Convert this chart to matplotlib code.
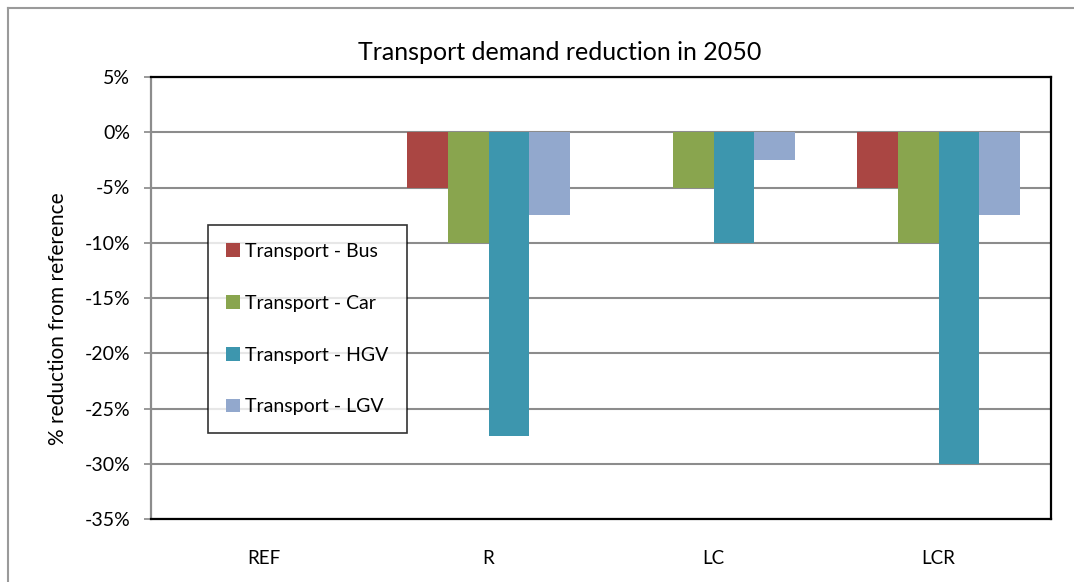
import numpy as np
from matplotlib import pyplot as plt
from matplotlib.lines import Line2D

plt.rcParams['font.family'] = ['Lato', 'DejaVu Sans']

scenarios = ['REF', 'R', 'LC', 'LCR']
series = ['Transport - Bus', 'Transport - Car', 'Transport - HGV', 'Transport - LGV']
bus = [0.0, -0.05, 0.0, -0.05]
car = [0.0, -0.10, -0.05, -0.10]
hgv = [0.0, -0.275, -0.10, -0.30]
lgv = [0.0, -0.075, -0.025, -0.075]
colors = ['#AA4643', '#89A54E', '#3D96AE', '#92A8CD']
y_ticks = [0.05, 0.0, -0.05, -0.10, -0.15, -0.20, -0.25, -0.30, -0.35]


def main():
    fig = plt.figure(figsize=(10.74, 5.82), dpi=100)
    ax = fig.add_axes([151 / 1074, 1 - 519 / 582, 900 / 1074, 442 / 582])

    # outer chart frame (only left and top edges are visible)
    fig.add_artist(Line2D([8 / 1074, 8 / 1074], [0, 1 - 8 / 582],
                          transform=fig.transFigure, color='#9a9a9a', lw=1.5))
    fig.add_artist(Line2D([8 / 1074, 1], [1 - 8 / 582, 1 - 8 / 582],
                          transform=fig.transFigure, color='#9a9a9a', lw=1.5))

    x = np.arange(len(scenarios))
    w = 0.181
    data = [bus, car, hgv, lgv]
    for i, vals in enumerate(data):
        ax.bar(x + (i - 1.5) * w, vals, width=w, color=colors[i],
               label=series[i], zorder=3)

    ax.set_xlim(-0.5, len(scenarios) - 0.5)
    ax.set_ylim(-0.35, 0.05)
    ax.set_yticks(y_ticks)
    ax.set_yticklabels(['%d%%' % round(v * 100) for v in y_ticks])
    ax.set_xticks(x)
    ax.set_xticklabels(scenarios)
    ax.tick_params(axis='x', length=0, pad=22, labelsize=13.5)
    ax.tick_params(axis='y', length=5, width=1.2, color='#888888', pad=10, labelsize=14)

    ax.yaxis.grid(True, color='#8c8c8c', lw=1.5, zorder=0)
    ax.set_axisbelow(True)
    for s in ['top', 'right', 'bottom']:
        ax.spines[s].set_color('black')
        ax.spines[s].set_linewidth(1.6)
    ax.spines['left'].set_color('#8c8c8c')
    ax.spines['left'].set_linewidth(1.6)

    ax.set_ylabel('% reduction from reference', fontsize=15)
    ax.yaxis.set_label_coords((68 - 151) / 900, (519 - 319) / 442)
    fig.text(560 / 1074, 1 - 52 / 582, 'Transport demand reduction in 2050',
             ha='center', va='center', fontsize=18)

    leg = ax.legend(loc='upper left', bbox_to_anchor=((208 - 151) / 900, (519 - 225) / 442),
                    fontsize=14, frameon=True, fancybox=False, edgecolor='black',
                    handlelength=0.7, handleheight=0.7, handletextpad=0.3,
                    labelspacing=1.79, borderpad=0.92, borderaxespad=0)
    leg.get_frame().set_linewidth(1.2)
    leg.set_zorder(5)

    plt.savefig('out.png', dpi=100)


if __name__ == "__main__":
    main()
